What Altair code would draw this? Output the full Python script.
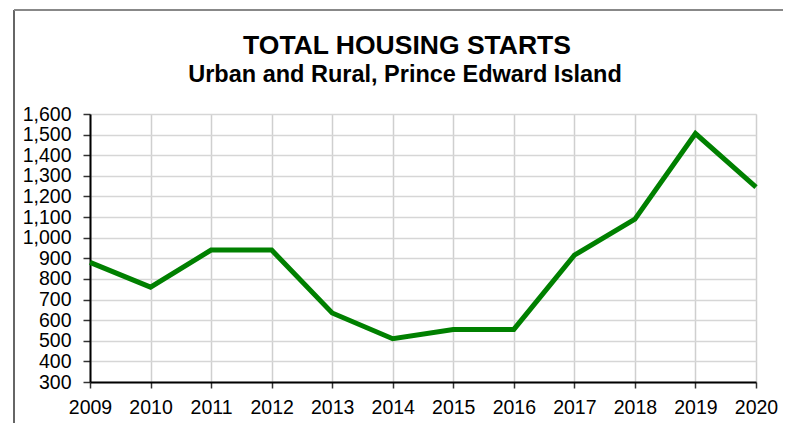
import altair as alt
import pandas as pd

years = [2009, 2010, 2011, 2012, 2013, 2014, 2015, 2016, 2017, 2018, 2019, 2020]
starts = [880, 760, 940, 940, 635, 510, 555, 555, 915, 1090, 1505, 1245]
y_ticks = list(range(300, 1700, 100))
TITLE = "TOTAL HOUSING STARTS"
SUBTITLE = "Urban and Rural, Prince Edward Island"

df = pd.DataFrame({"year": years, "starts": starts})
one = pd.DataFrame({"k": [0]})

FONT = "Liberation Sans"

line = alt.Chart(df).mark_line(color="#008000", strokeWidth=5, strokeJoin="miter").encode(
    x=alt.X("year:Q",
            scale=alt.Scale(domain=[2009, 2020], nice=False, zero=False),
            axis=alt.Axis(values=years, format="d", title=None, labelFontSize=19.5,
                          labelFont=FONT, labelColor="#000000", labelPadding=10,
                          labelFlush=False,
                          tickSize=6, tickColor="#333333", tickWidth=1.5,
                          domainColor="#000000", domainWidth=2,
                          grid=True, gridColor="#cfcfcf", gridWidth=1.5,
                          labelOverlap=False)),
    y=alt.Y("starts:Q",
            scale=alt.Scale(domain=[300, 1600], nice=False, zero=False),
            axis=alt.Axis(values=y_ticks, format=",.0f", title=None, labelFontSize=19.5,
                          labelFont=FONT, labelColor="#000000", labelPadding=12,
                          labelFlush=False,
                          tickSize=7, tickColor="#333333", tickWidth=1.5,
                          domainColor="#000000", domainWidth=2,
                          grid=True, gridColor="#d6d6d6", gridWidth=1.5,
                          labelOverlap=False)),
)

frame_left = alt.Chart(one).mark_rule(color="#333333", strokeWidth=1.5).encode(
    x=alt.value(-76), y=alt.value(-104), y2=alt.value(330))
frame_top = alt.Chart(one).mark_rule(color="#888888", strokeWidth=2).encode(
    x=alt.value(-76), x2=alt.value(720), y=alt.value(-104))

title_txt = alt.Chart(one).mark_text(
    font=FONT, fontSize=26.5, fontWeight="bold", color="#000000",
    align="center", baseline="alphabetic").encode(
    x=alt.value(317), y=alt.value(-60), text=alt.value(TITLE))
subtitle_txt = alt.Chart(one).mark_text(
    font=FONT, fontSize=23.5, fontWeight="bold", color="#000000",
    align="center", baseline="alphabetic").encode(
    x=alt.value(315), y=alt.value(-32), text=alt.value(SUBTITLE))

chart = alt.layer(line, frame_left, frame_top, title_txt, subtitle_txt).properties(
    width=666,
    height=268,
    autosize=alt.AutoSizeParams(type="none"),
    padding={"left": 82, "top": 106, "right": 27, "bottom": 41},
).configure_view(stroke="#808080", strokeWidth=2.5).configure(background="#ffffff")

chart.save("out.html", embed_options={"renderer": "svg", "actions": False})
